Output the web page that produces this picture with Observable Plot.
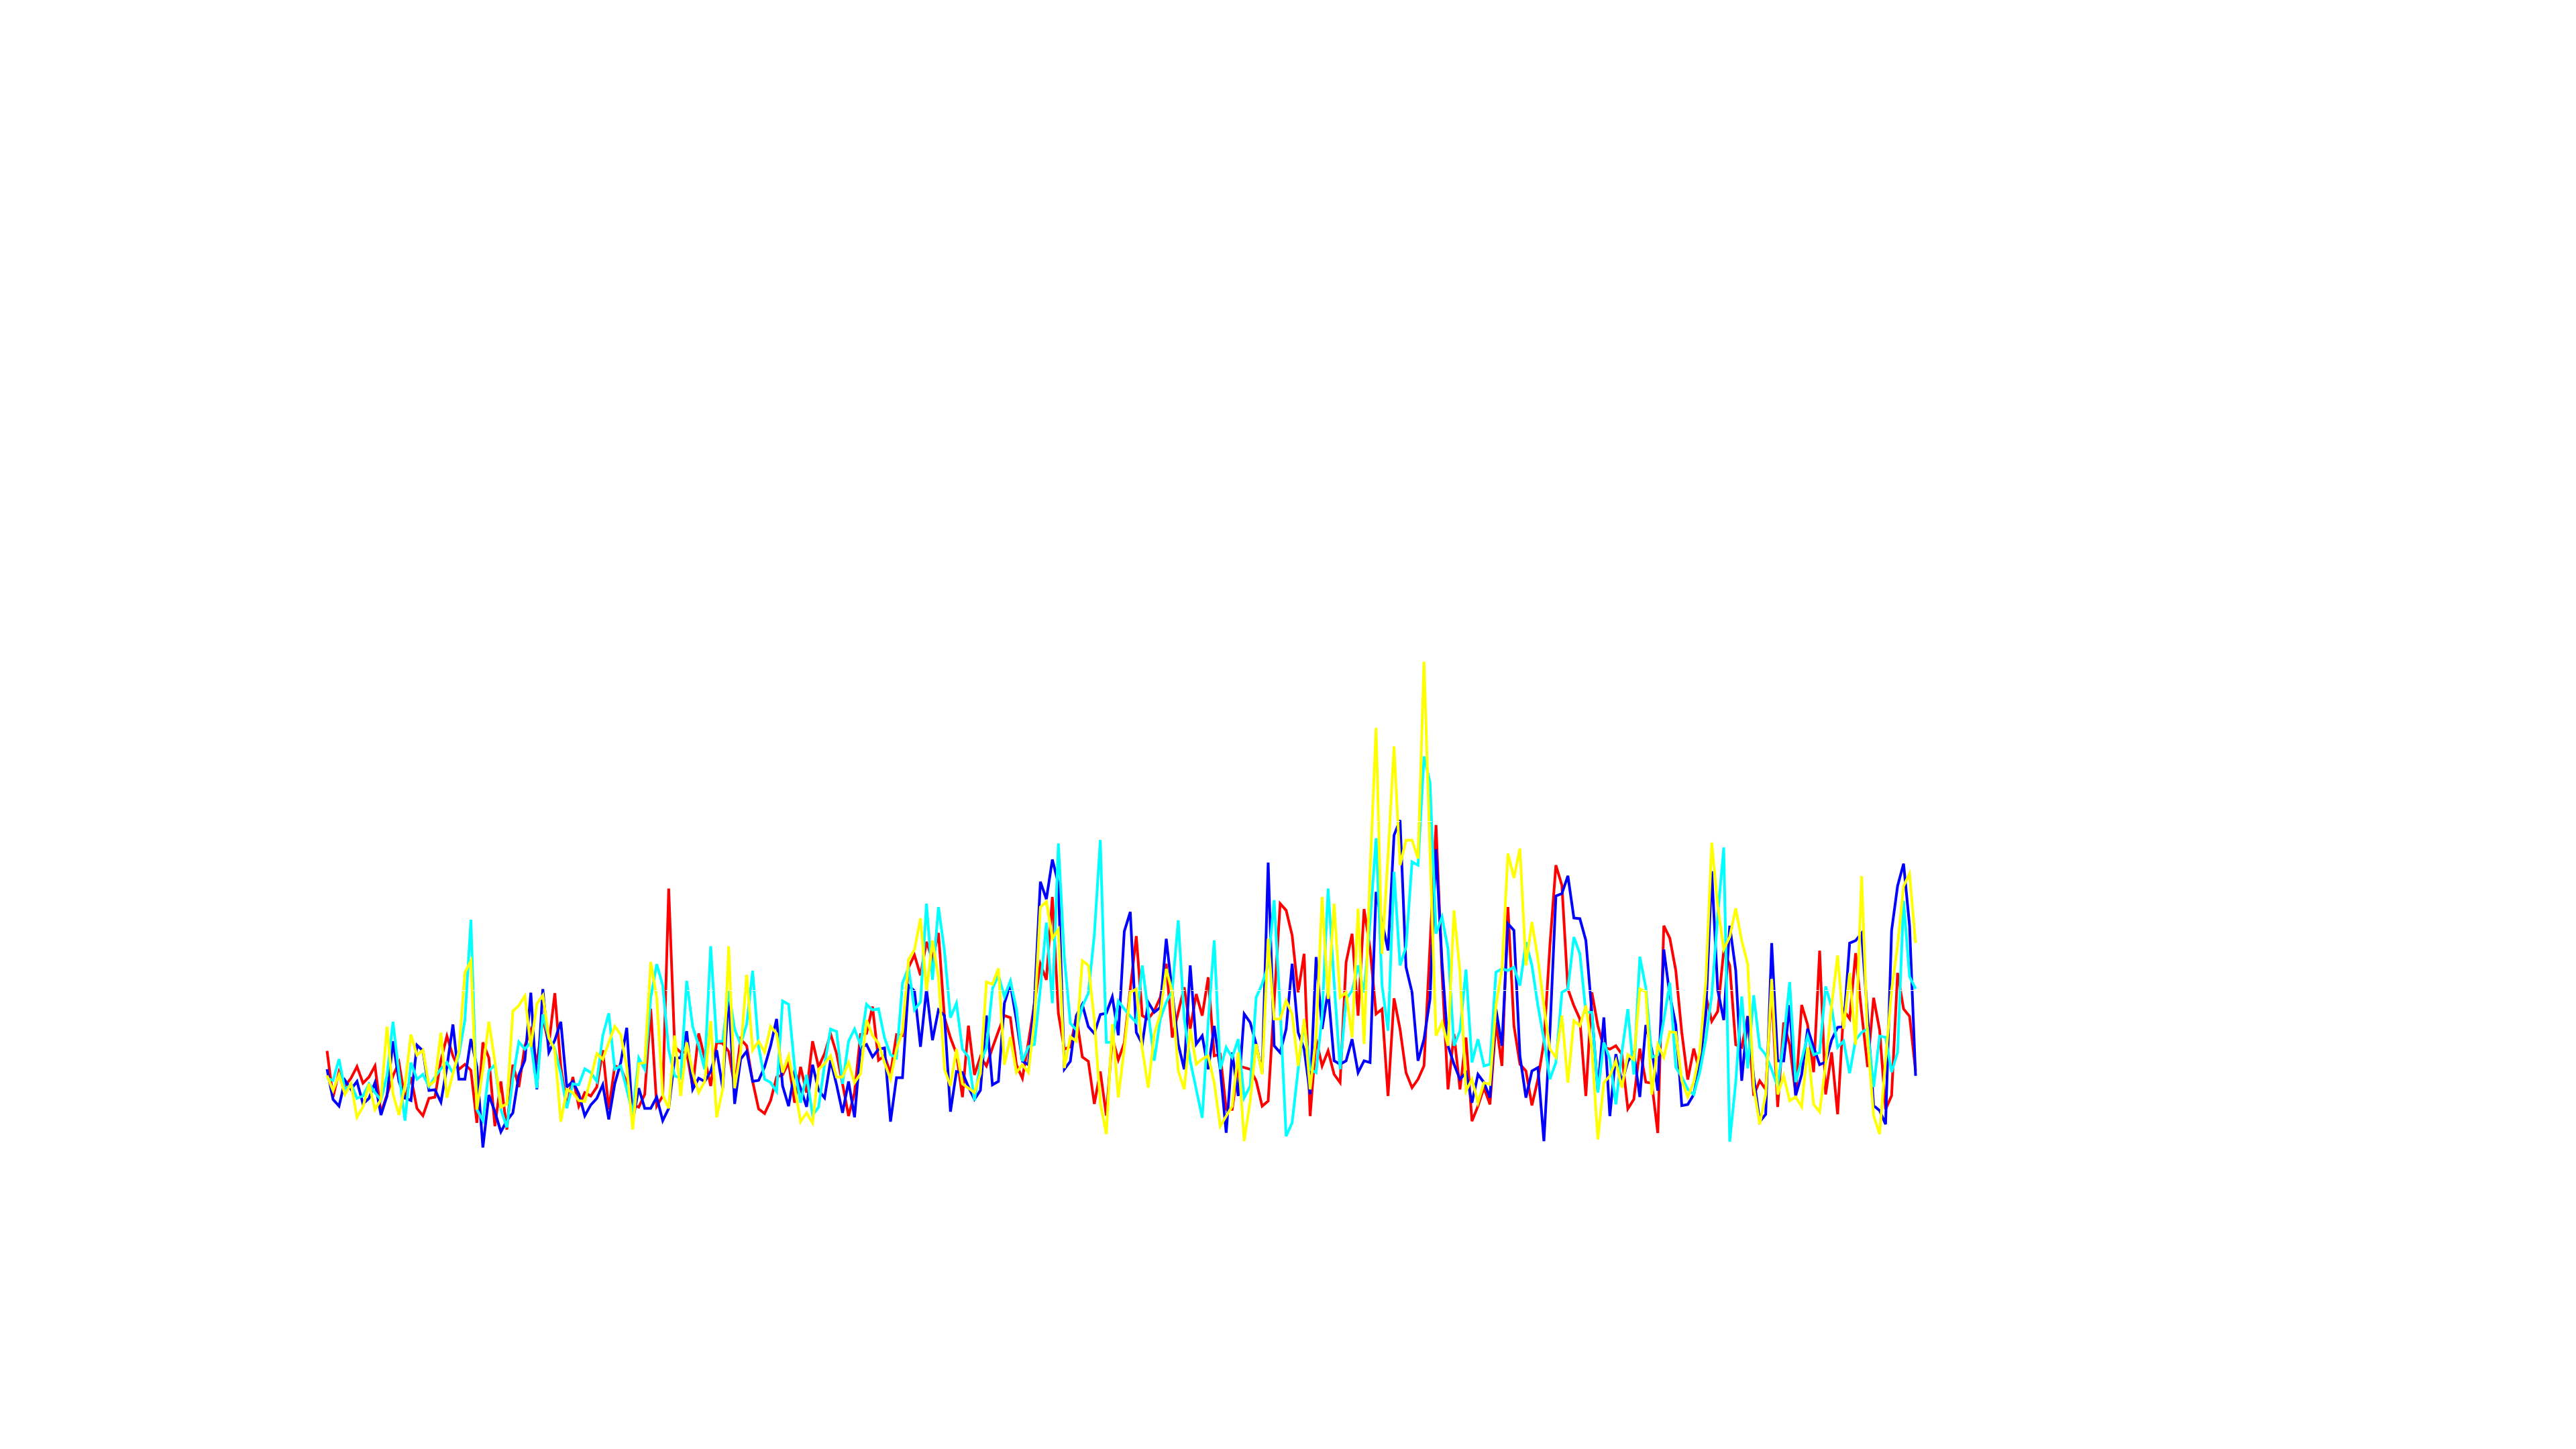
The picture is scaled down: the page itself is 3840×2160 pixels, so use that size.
<!DOCTYPE html>
<html>
<head>
<meta charset="utf-8">
<script src="https://cdn.jsdelivr.net/npm/d3@7"></script>
<script src="https://cdn.jsdelivr.net/npm/@observablehq/plot@0.6"></script>
<style>
  html, body { margin: 0; padding: 0; background: #ffffff; overflow: hidden; }
  #chart svg { display: block; }
</style>
</head>
<body>
<div id="chart"></div>
<script>
// Four series, one value per sample (266 samples).
const red = [64.3,36.9,51.9,43.5,48.1,55.0,45.2,48.8,55.4,27.6,38.2,49.5,57.4,35.6,48.8,30.3,25.9,36.2,36.9,58.7,
73.0,61.4,53.4,56.3,52.8,21.7,69.3,60.1,19.7,46.2,17.7,56.1,42.9,67.3,76.6,56.1,83.9,68.0,98.4,54.8,
31.0,48.8,31.6,39.6,37.6,42.9,64.7,29.6,55.4,54.1,45.5,32.3,31.0,38.6,89.2,31.6,37.6,160.3,66.7,63.4,
63.4,42.9,74.6,60.1,43.5,69.3,68.7,64.0,42.9,71.3,67.3,46.2,29.9,27.2,34.9,48.8,50.1,57.4,33.6,54.8,
39.6,70.0,54.8,62.7,74.3,62.7,44.8,25.7,39.6,74.0,74.6,90.5,58.7,61.4,50.8,73.9,73.3,113.6,120.9,109.0,
128.8,118.3,134.1,83.9,72.0,62.7,36.9,79.2,50.1,60.7,55.4,66.0,75.9,85.2,83.9,56.1,48.1,69.3,91.8,115.6,
106.3,155.3,86.5,65.3,66.7,84.5,60.7,58.1,32.9,52.1,26.0,72.0,59.0,69.0,101.0,132.2,85.1,83.1,88.0,95.9,
115.8,72.2,87.1,101.9,77.2,97.9,85.1,107.8,61.3,62.3,29.7,29.7,55.4,54.4,53.4,46.5,31.6,34.6,93.0,151.4,
147.4,132.6,98.9,121.7,25.7,71.2,55.4,64.3,50.4,45.5,116.7,133.6,85.1,148.2,124.7,86.1,89.0,37.6,95.4,77.2,
51.4,42.5,47.5,55.4,126.6,197.9,110.8,41.5,74.2,41.5,72.2,22.7,31.6,42.5,32.6,81.1,55.4,149.4,79.1,56.4,
52.4,32.0,47.5,69.3,126.6,174.1,162.2,100.9,91.0,83.1,37.6,98.9,79.1,66.3,65.3,67.3,62.3,30.0,35.6,65.6,
45.8,45.1,15.7,138.3,131.0,111.9,75.2,47.3,65.6,51.7,97.2,81.8,87.7,123.6,114.9,67.9,66.4,84.8,37.8,46.6,
41.5,100.2,31.1,81.1,67.9,38.5,91.4,79.6,51.7,123.6,38.5,63.4,26.8,88.4,83.3,122.1,87.0,54.7,95.7,76.6,
29.7,37.8,110.4,89.1,84.7,52.5];

const blue = [53.4,35.6,31.6,46.8,41.5,46.2,32.9,36.2,45.5,26.3,37.6,70.0,46.2,36.5,34.9,67.7,64.3,40.9,41.3,33.9,
54.8,79.9,47.5,47.5,71.3,54.8,7.1,38.2,28.3,16.4,23.0,27.6,50.1,58.7,98.7,41.5,100.8,63.4,70.6,81.5,
42.9,46.2,38.9,25.9,32.3,36.2,44.2,23.7,44.8,57.4,77.9,23.0,42.2,30.3,30.3,36.9,23.0,30.3,60.1,60.1,
75.9,41.5,48.1,46.2,52.1,64.7,42.2,98.4,32.9,59.4,64.0,46.2,46.8,54.8,67.3,83.2,43.5,31.6,52.1,42.2,
31.2,56.1,40.9,36.5,58.7,44.2,27.6,46.2,25.0,66.0,68.0,60.7,65.3,66.0,22.4,48.4,48.4,103.0,99.7,66.7,
100.8,70.6,88.5,85.2,28.3,52.1,51.5,42.9,35.6,40.9,85.2,44.2,46.2,92.5,103.7,82.5,58.1,56.1,93.1,164.3,
154.0,177.5,163.2,53.4,58.1,85.2,91.8,78.6,74.6,85.8,86.5,96.2,73.5,135.0,146.5,75.2,68.3,93.0,87.1,90.0,
130.6,98.9,68.3,53.4,114.8,68.3,73.2,53.4,79.1,53.4,15.8,63.3,37.6,86.1,81.1,68.3,51.4,175.7,67.3,63.3,
77.2,115.8,75.2,65.3,38.6,119.8,77.2,99.9,58.4,56.4,58.4,71.2,51.4,58.4,57.4,158.3,140.5,123.7,191.9,200.8,
113.8,98.9,58.4,71.2,95.0,183.6,116.8,67.3,56.4,47.5,51.4,33.6,50.4,45.5,36.6,89.0,67.3,139.5,135.6,61.3,
36.6,52.4,54.4,10.9,75.2,155.9,157.3,167.8,142.9,142.5,129.6,87.1,40.5,84.1,25.7,62.3,45.5,58.0,63.4,37.0,
79.6,64.9,40.7,124.3,97.2,79.6,31.9,32.6,38.5,56.1,85.5,170.6,100.2,82.5,138.3,111.9,46.6,84.8,48.8,22.4,
26.8,128.0,58.3,58.3,91.3,37.8,50.3,77.4,66.4,56.1,57.6,70.8,78.2,78.9,128.0,129.5,133.9,84.8,31.9,29.0,
20.9,135.4,161.8,175.0,138.3,49.5];

const cyan = [48.1,46.8,59.4,40.9,44.8,36.2,37.6,44.8,39.6,35.2,49.5,81.5,51.0,23.0,57.4,47.5,50.4,43.1,48.8,53.7,
57.4,51.1,62.0,82.5,141.8,29.6,23.0,52.4,56.1,29.6,19.0,48.1,69.6,65.3,69.3,42.2,85.8,72.0,65.3,50.8,
30.3,44.8,44.2,53.7,51.5,46.2,73.3,86.5,53.4,55.4,41.5,27.0,60.1,53.4,95.8,115.6,103.0,64.7,49.5,48.1,
105.7,78.6,67.3,53.4,126.2,69.7,70.0,99.7,77.2,68.0,79.9,111.6,66.7,47.5,45.5,40.2,93.8,91.8,54.8,33.6,
50.1,26.3,31.0,56.1,77.2,75.7,44.8,70.0,77.2,68.0,91.8,88.5,89.2,72.0,62.0,60.1,104.4,113.6,88.5,93.1,
151.3,106.3,149.3,123.5,83.9,92.5,65.3,60.7,34.9,57.4,66.0,101.0,109.0,96.4,105.7,89.2,58.1,66.7,68.0,101.1,
140.1,92.5,187.0,119.6,80.6,76.6,90.5,98.4,132.8,189.0,69.3,69.3,93.7,89.1,84.8,81.1,114.8,87.1,58.4,83.1,
93.0,99.9,141.5,83.1,58.4,41.5,24.7,81.1,129.6,53.4,66.3,60.3,71.2,36.6,43.5,95.9,103.9,114.8,153.4,89.0,
13.8,21.8,53.4,81.1,53.4,51.4,85.1,160.3,104.9,53.4,95.0,99.9,114.8,98.9,140.5,190.0,102.9,76.2,170.2,114.8,
125.7,176.1,174.1,238.4,223.2,133.6,143.5,124.7,67.3,76.2,112.4,57.4,71.2,55.4,56.4,110.8,112.8,111.8,113.8,102.9,
128.6,114.8,91.0,71.2,47.5,57.4,98.9,100.9,131.6,121.7,87.1,87.1,39.6,69.3,59.4,32.6,63.3,89.0,50.3,120.0,
101.6,60.5,62.0,82.5,104.6,54.7,48.8,41.5,38.5,51.7,70.8,97.2,144.2,184.6,10.6,45.8,96.5,53.9,97.2,66.4,
62.0,53.2,42.9,70.8,105.0,45.8,59.1,73.0,62.0,63.4,102.4,89.9,66.4,70.1,51.0,70.8,75.2,77.4,42.9,73.0,
72.3,51.7,63.4,153.0,108.2,100.9];

const yellow = [49.7,40.9,50.1,38.5,44.8,25.0,31.2,44.8,29.6,35.6,78.6,38.9,26.3,43.9,73.9,61.8,64.7,43.8,46.6,75.0,
36.6,50.8,64.0,110.6,117.6,29.6,53.4,81.5,58.1,31.0,32.9,87.8,91.1,96.8,66.7,92.1,97.1,72.0,64.7,22.4,
41.5,39.6,34.9,34.3,48.1,62.7,59.3,69.3,78.8,73.9,54.8,17.7,56.7,57.4,116.9,95.8,38.2,30.3,73.3,37.6,
69.3,51.5,39.6,46.2,81.9,25.0,41.5,126.2,42.2,64.0,109.3,64.7,70.0,63.4,78.8,74.6,51.5,61.4,42.9,22.4,
27.6,21.7,53.4,56.7,61.4,48.8,48.8,57.4,45.5,50.8,82.5,73.3,68.7,57.4,47.5,65.3,75.9,118.3,124.2,142.7,
99.7,129.5,107.7,53.4,43.5,65.3,44.8,42.2,39.6,50.8,105.0,103.7,113.0,56.1,72.6,51.5,56.1,51.5,82.5,149.3,
152.6,130.8,136.1,54.1,72.6,70.0,117.6,114.9,82.5,33.6,15.0,80.0,36.7,66.0,98.8,100.9,65.3,42.5,74.2,86.1,
112.8,98.9,52.4,41.5,77.2,56.4,59.4,61.3,45.5,19.8,25.7,31.6,63.3,10.9,34.6,68.3,50.4,130.6,83.1,83.1,
94.0,86.1,55.4,83.1,41.5,73.2,155.3,95.0,151.3,95.9,98.9,72.2,148.4,68.3,170.2,255.3,121.7,180.0,244.4,174.1,
188.9,188.9,178.1,294.5,182.0,73.2,81.1,67.3,147.4,110.8,40.5,47.5,33.6,45.5,44.5,91.0,112.8,181.0,166.6,184.0,
114.8,140.5,118.8,91.0,65.3,60.4,85.1,45.5,82.1,79.1,91.0,65.3,11.9,45.5,49.5,58.4,42.5,62.0,59.1,100.9,
99.4,38.5,67.9,60.5,75.5,75.2,46.6,37.0,45.8,63.4,104.5,187.5,150.1,124.4,131.7,148.6,129.5,115.6,42.9,20.9,
38.5,106.8,38.5,49.5,34.8,37.0,31.2,66.4,32.6,28.2,56.1,91.4,120.7,77.4,110.4,67.9,167.7,70.8,26.0,15.0,
59.1,100.2,126.6,161.8,169.1,128.1];

const gridValues = [0, 100, 200, 300];

const series = [
  {name: "red", color: "#ff0000", values: red},
  {name: "blue", color: "#0000ff", values: blue},
  {name: "cyan", color: "#00ffff", values: cyan},
  {name: "yellow", color: "#ffff00", values: yellow}
];

const n = red.length;

const chart = Plot.plot({
  width: 3840,
  height: 2160,
  margin: 0,
  style: {background: "#ffffff"},
  x: {domain: [0, n - 1], range: [487, 2855], axis: null},
  y: {domain: [0, 100], range: [1728, 1476], axis: null},
  marks: [
    ...series.map(s => Plot.line(s.values, {
      x: (d, i) => i,
      y: d => d,
      stroke: s.color,
      strokeWidth: 4,
      strokeLinejoin: "miter",
      strokeLinecap: "butt",
      strokeMiterlimit: 4
    })),
    Plot.ruleY(gridValues, {stroke: "#ffffff", strokeWidth: 1.2, strokeDasharray: "7,9"})
  ]
});

document.getElementById("chart").appendChild(chart);
</script>
</body>
</html>
